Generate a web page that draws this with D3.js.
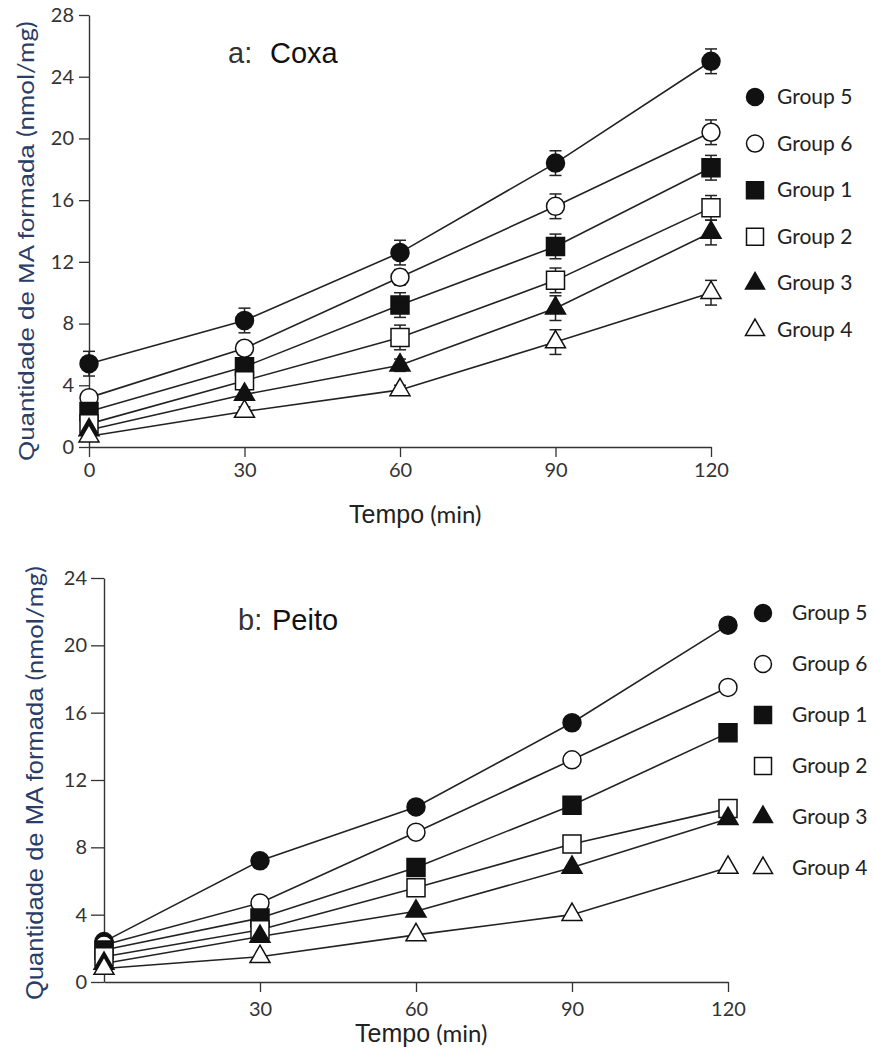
<!DOCTYPE html>
<html>
<head>
<meta charset="utf-8">
<script src="https://d3js.org/d3.v7.min.js"></script>
<style>
  body { margin: 0; background: #fff; }
  svg { display: block; }
</style>
</head>
<body>
<script>
// time points and groups (order = legend order)
var tempo = [0, 30, 60, 90, 120];
var grupos = ["Group 5", "Group 6", "Group 1", "Group 2", "Group 3", "Group 4"];
var simbolos = ["circle", "circle", "square", "square", "triangle", "triangle"];
var cheio = [true, false, true, false, true, false];

// a: Coxa
var coxaG5 = [5.4, 8.2, 12.6, 18.4, 25.0];
var coxaG6 = [3.2, 6.4, 11.0, 15.6, 20.4];
var coxaG1 = [2.3, 5.2, 9.2, 13.0, 18.1];
var coxaG2 = [1.5, 4.3, 7.1, 10.8, 15.5];
var coxaG3 = [1.1, 3.4, 5.3, 9.0, 13.9];
var coxaG4 = [0.7, 2.3, 3.7, 6.8, 10.0];
// error bars (+/-) for Coxa
var coxaErrG5 = [0.8, 0.8, 0.8, 0.8, 0.8];
var coxaErrG6 = [0.3, 0.4, 0.5, 0.8, 0.8];
var coxaErrG1 = [0.3, 0.4, 0.8, 0.8, 0.8];
var coxaErrG2 = [0.3, 0.4, 0.8, 0.8, 0.8];
var coxaErrG3 = [0.3, 0.3, 0.4, 0.8, 0.8];
var coxaErrG4 = [0.2, 0.3, 0.3, 0.8, 0.8];

// b: Peito
var peitoG5 = [2.4, 7.2, 10.4, 15.4, 21.2];
var peitoG6 = [2.2, 4.7, 8.9, 13.2, 17.5];
var peitoG1 = [1.9, 3.8, 6.8, 10.5, 14.8];
var peitoG2 = [1.5, 3.1, 5.6, 8.2, 10.3];
var peitoG3 = [1.1, 2.7, 4.2, 6.8, 9.7];
var peitoG4 = [0.8, 1.5, 2.8, 4.0, 6.8];

var ticksYCoxa = [0, 4, 8, 12, 16, 20, 24, 28];
var ticksXCoxa = [0, 30, 60, 90, 120];
var ticksYPeito = [0, 4, 8, 12, 16, 20, 24];
var ticksXPeito = [30, 60, 90, 120];

var width = 874, height = 1053;
var svg = d3.select("body").append("svg")
    .attr("width", width)
    .attr("height", height);

var tickFont = "Lato, 'Open Sans', sans-serif";
var arialFont = "'Liberation Sans', Arial, sans-serif";

function simbolo(tipo, tam) {
  var t = tipo == "circle" ? d3.symbolCircle : tipo == "square" ? d3.symbolSquare : d3.symbolTriangle;
  var area = tipo == "circle" ? Math.PI * tam * tam / 4 : tipo == "square" ? tam * tam : Math.sqrt(3) / 4 * tam * tam;
  return d3.symbol().type(t).size(area)();
}

function painel(cfg) {
  var x = d3.scaleLinear().domain([0, 120]).range(cfg.xr);
  var y = d3.scaleLinear().domain([0, cfg.ymax]).range(cfg.yr);
  var g = svg.append("g");

  // axes
  var ax = g.append("g")
      .attr("transform", "translate(" + cfg.xr[0] + ",0)")
      .call(d3.axisLeft(y).tickValues(cfg.yticks).tickSize(cfg.ytick).tickSizeOuter(0).tickPadding(cfg.ypad));
  var bx = g.append("g")
      .attr("transform", "translate(0," + cfg.yr[0] + ")")
      .call(d3.axisBottom(x).tickValues(cfg.xticks).tickSize(10).tickSizeOuter(0).tickPadding(cfg.xpad));
  [ax, bx].forEach(function(a) {
    a.select(".domain").attr("stroke", "#333").attr("stroke-width", 1.4);
    a.selectAll(".tick line").attr("stroke", "#333").attr("stroke-width", 1.3);
    a.selectAll(".tick text").attr("fill", "#333")
      .style("font-family", tickFont).style("font-size", "20px");
  });

  var series = cfg.valores.map(function(v, i) {
    return tempo.map(function(t, j) {
      return { t: t, v: v[j], e: cfg.erros ? cfg.erros[i][j] : 0 };
    });
  });

  var linha = d3.line().x(function(d) { return x(d.t); }).y(function(d) { return y(d.v); });

  g.selectAll(".serie").data(series).enter().append("path")
      .attr("d", linha)
      .attr("fill", "none")
      .attr("stroke", "#222")
      .attr("stroke-width", 1.6);

  if (cfg.erros) {
    series.forEach(function(s) {
      s.forEach(function(d) {
        if (d.e <= 0) return;
        var cx = x(d.t), y1 = y(d.v + d.e), y2 = y(d.v - d.e);
        g.append("line").attr("x1", cx).attr("x2", cx).attr("y1", y1).attr("y2", y2)
          .attr("stroke", "#222").attr("stroke-width", 1.5);
        [y1, y2].forEach(function(yy) {
          g.append("line").attr("x1", cx - 6).attr("x2", cx + 6).attr("y1", yy).attr("y2", yy)
            .attr("stroke", "#222").attr("stroke-width", 1.5);
        });
      });
    });
  }

  series.forEach(function(s, i) {
    g.selectAll(null).data(s).enter().append("path")
      .attr("d", simbolo(simbolos[i], simbolos[i] == "triangle" ? 20 : 18))
      .attr("transform", function(d) { return "translate(" + x(d.t) + "," + y(d.v) + ")"; })
      .attr("fill", cheio[i] ? "#111" : "#fff")
      .attr("stroke", "#111")
      .attr("stroke-width", 1.5);
  });

  // title
  var tt = g.append("text")
      .attr("x", cfg.titulo.x).attr("y", cfg.titulo.y)
      .style("font-family", arialFont).style("font-size", "29px").attr("fill", "#111");
  tt.append("tspan").attr("fill", "#333").text(cfg.titulo.a);
  tt.append("tspan").attr("x", cfg.titulo.x2).text(cfg.titulo.b);

  // x label
  var xl = g.append("text")
      .attr("x", cfg.xlab.x).attr("y", cfg.xlab.y).attr("fill", "#222");
  xl.append("tspan").style("font-family", arialFont).style("font-size", "25px").text("Tempo");
  xl.append("tspan").style("font-family", tickFont).style("font-size", "24px").text(" (min)");

  // y label
  var yl = g.append("text").attr("fill", "#2a3d66");
  yl.append("tspan").style("font-family", arialFont).style("font-size", "23px").text("Quantidade de MA formada ");
  yl.append("tspan").style("font-family", tickFont).style("font-size", "23px").text("(nmol/mg)");
  var natural = yl.node().getComputedTextLength();
  var sx = cfg.ylab.len / natural;
  yl.attr("transform", "translate(" + cfg.ylab.x + "," + cfg.ylab.y + ") rotate(-90) scale(" + sx + ",1)");

  // legend
  var leg = d3.scaleLinear().domain([0, grupos.length - 1]).range(cfg.leg.yr);
  grupos.forEach(function(nome, i) {
    g.append("path")
      .attr("d", simbolo(simbolos[i], simbolos[i] == "triangle" ? 19 : 17))
      .attr("transform", "translate(" + cfg.leg.mx + "," + leg(i) + ")")
      .attr("fill", cheio[i] ? "#111" : "#fff")
      .attr("stroke", "#111").attr("stroke-width", 1.5);
    g.append("text")
      .attr("x", cfg.leg.tx).attr("y", leg(i) + 7)
      .style("font-family", tickFont).style("font-size", "21px").attr("fill", "#222")
      .text(nome);
  });
}

painel({
  xr: [89, 711], yr: [447, 15], ymax: 28,
  yticks: ticksYCoxa, xticks: ticksXCoxa, ytick: 10, ypad: 5, xpad: 6,
  valores: [coxaG5, coxaG6, coxaG1, coxaG2, coxaG3, coxaG4],
  erros: [coxaErrG5, coxaErrG6, coxaErrG1, coxaErrG2, coxaErrG3, coxaErrG4],
  titulo: { x: 228, x2: 270, y: 63, a: "a:", b: "Coxa" },
  xlab: { x: 349, y: 523 },
  ylab: { x: 34, y: 461, len: 440 },
  leg: { mx: 755, tx: 777, yr: [97, 330] }
});

painel({
  xr: [104, 728], yr: [982, 578], ymax: 24,
  yticks: ticksYPeito, xticks: ticksXPeito, ytick: 13, ypad: 4, xpad: 10,
  valores: [peitoG5, peitoG6, peitoG1, peitoG2, peitoG3, peitoG4],
  erros: null,
  titulo: { x: 238, x2: 272, y: 630, a: "b:", b: "Peito" },
  xlab: { x: 355, y: 1042 },
  ylab: { x: 43, y: 1000, len: 434 },
  leg: { mx: 763, tx: 792, yr: [613, 868] }
});
</script>
</body>
</html>
